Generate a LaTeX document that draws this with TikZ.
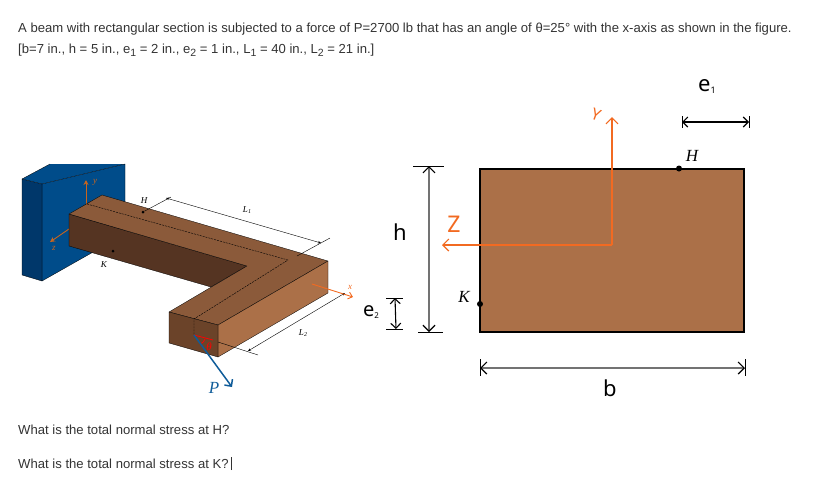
\documentclass[tikz,border=0pt]{standalone}
\usepackage{fontspec}
\setmainfont{Liberation Sans}
\newfontfamily\handfont{Noto Sans}
\newfontfamily\labelfont{Liberation Serif}
\usetikzlibrary{arrows.meta}
\definecolor{wallfront}{HTML}{004C8A}
\definecolor{wallside}{HTML}{00376A}
\definecolor{beamtop}{HTML}{8B5A3A}
\definecolor{beamside}{HTML}{553422}
\definecolor{beamlight}{HTML}{AB7048}
\definecolor{beamend}{HTML}{6B4329}
\definecolor{axisorange}{HTML}{F26A21}
\definecolor{axisbrown}{HTML}{C8651E}
\definecolor{forceblue}{HTML}{0F5C99}
\definecolor{textgray}{HTML}{333333}
\newcommand{\subnum}[1]{\raisebox{-3pt}{\fontsize{10.5}{12}\selectfont #1}}
\tikzstyle{face} = [draw=black, line width=0.3pt, line join=round]
\tikzstyle{thindim} = [black, line width=0.4pt, {Stealth[length=3pt,width=2.5pt]}-{Stealth[length=3pt,width=2.5pt]}]
\tikzstyle{thinline} = [black, line width=0.4pt]
\tikzstyle{handdim} = [line width=1.1pt, {Straight Barb[length=5pt,width=10pt]}-{Straight Barb[length=5pt,width=10pt]}]
\tikzstyle{graydim} = [draw=black!55, line width=1.2pt, {Straight Barb[length=6pt,width=12pt,black]}-{Straight Barb[length=6pt,width=12pt,black]}]
\tikzstyle{axis3d} = [axisbrown, line width=0.9pt, -{Stealth[length=5pt,width=5pt]}]
\tikzstyle{axis2d} = [axisorange, line width=1.2pt, -{Straight Barb[length=6pt,width=12pt]}]
\tikzstyle{bodytext} = [anchor=base west, inner sep=0pt, textgray, font=\fontsize{13.1}{15}\selectfont]
\tikzstyle{slabel} = [inner sep=0pt, font=\fontsize{9}{10}\labelfont\itshape]
\tikzstyle{seclabel} = [inner sep=0pt, font=\fontsize{17}{18}\labelfont\itshape]
\tikzstyle{hand} = [inner sep=0pt, font=\fontsize{22}{24}\handfont]
\tikzstyle{pointdot} = [circle, fill=black, inner sep=0pt, minimum size=#1]

\begin{document}
\begin{tikzpicture}[x=1pt, y=-1pt]
	\useasboundingbox (0,0) rectangle (823,499);
	\node[bodytext] (line1) at (18,32) {A beam with rectangular section is subjected to a force of P=2700 lb that has an angle of θ=25° with the x-axis as shown in the figure.};
	\node[bodytext] (line2) at (18,53) {[b=7 in., h = 5 in., e\subnum{1} = 2 in., e\subnum{2} = 1 in., L\subnum{1} = 40 in., L\subnum{2} = 21 in.]};
	\node[bodytext] (askh) at (18,434) {What is the total normal stress at H?};
	\node[bodytext] (askk) at (18,468) {What is the total normal stress at K?\,\rule[-2pt]{0.6pt}{13pt}};

	% wall
	\fill[wallfront] (50,164) -- (125,164) -- (42,184) -- (22,179) -- cycle;
	\draw[face, fill=wallfront] (42,184) -- (125,164) -- (125,234) -- (42,281) -- cycle;
	\draw[face, fill=wallside] (22,179) -- (42,184) -- (42,281) -- (22,275) -- cycle;
	\draw[face] (22,179) -- (50,164);

	% axes at the wall
	\coordinate (origy) at (86,204);
	\coordinate (tipy) at (86,180);
	\coordinate (origz) at (69,229);
	\coordinate (tipz) at (50,242);
	\draw[axis3d] (origy) to (tipy);
	\draw[axis3d] (origz) to (tipz);
	\node[slabel, axisbrown] (ylabel) at (95,182) {y};
	\node[slabel, axisbrown] (zlabel) at (54,248) {z};

	% beam
	\draw[face, fill=beamside] (69,214) -- (247,266) -- (211,287) -- (69,246) -- cycle;
	\draw[face, fill=beamtop] (69,214) -- (102,195) -- (328,261) -- (218,325) -- (169,312) -- (247,266) -- cycle;
	\draw[face, fill=beamlight] (218,325) -- (328,261) -- (328,293) -- (218,357) -- cycle;
	\draw[face, fill=beamend] (169,312) -- (218,325) -- (218,357) -- (169,343) -- cycle;
	\draw[thinline, dash pattern=on 2pt off 1pt] (87,204) -- (288,260) -- (194,319) -- (194,335);

	% dimensions on the beam
	\node[pointdot=3pt] (hdot3d) at (143,212) {};
	\node[pointdot=3pt] (kdot3d) at (113,251) {};
	\node[slabel] (h3d) at (144,201) {H};
	\node[slabel] (k3d) at (104,265) {K};
	\coordinate (lonestart) at (166,198);
	\coordinate (loneend) at (321,243);
	\coordinate (loneext) at (171,197);
	\coordinate (lonecut) at (297,256);
	\coordinate (lonetop) at (330,238);
	\draw[thinline] (hdot3d) to (loneext);
	\draw[thinline] (lonecut) to (lonetop);
	\draw[thindim] (lonestart) to (loneend);
	\node[slabel] (lone) at (247,210) {L\raisebox{-1.5pt}{\fontsize{6}{7}\selectfont 1}};
	\coordinate (ltwostart) at (248,351);
	\coordinate (ltwoend) at (345,293);
	\coordinate (ltwobase) at (218,342);
	\coordinate (ltwoext) at (258,355);
	\draw[thinline] (ltwobase) to (ltwoext);
	\draw[thindim] (ltwostart) to (ltwoend);
	\node[slabel] (ltwo) at (303,333) {L\raisebox{-1.5pt}{\fontsize{6}{7}\selectfont 2}};

	% x axis and load
	\coordinate (origx) at (312,284);
	\coordinate (tipx) at (353,297);
	\draw[axisorange, line width=0.9pt, -{Straight Barb[length=4pt,width=7pt]}] (origx) to (tipx);
	\node[slabel, axisorange] (xlabel) at (350,287) {x};
	\coordinate (loadbase) at (194,335);
	\coordinate (loadtip) at (232,387);
	\coordinate (thetaend) at (213,340);
	\coordinate (thetaone) at (205,339);
	\coordinate (thetatwo) at (200,344);
	\draw[red, line width=0.8pt] (loadbase) to (thetaend);
	\draw[red, line width=0.7pt] (thetaone) to[bend left=25] (thetatwo);
	\draw[forceblue, line width=1.5pt, -{Straight Barb[length=5pt,width=10pt]}] (loadbase) to (loadtip);
	\node[inner sep=0pt, red, font=\fontsize{11}{12}\labelfont\itshape] (thetalabel) at (209,347) {θ};
	\node[inner sep=0pt, forceblue, font=\fontsize{17}{18}\labelfont\itshape] (plabel) at (214,388) {P};

	% section
	\draw[line width=1.6pt, fill=beamlight] (480,169) rectangle (744,332);
	\coordinate (sectionorig) at (612,245);
	\coordinate (sectiony) at (612,117);
	\coordinate (sectionz) at (442,245);
	\draw[axis2d] (sectionorig) to (sectiony);
	\draw[axis2d] (sectionorig) to (sectionz);
	\node[hand, axisorange, font=\fontsize{16}{17}\handfont, rotate=-20] (ysec) at (596,115) {Y};
	\node[hand, axisorange, font=\fontsize{23}{24}\handfont] (zsec) at (454,224) {Z};
	\node[pointdot=6pt] (hdot) at (679,168.5) {};
	\node[pointdot=6pt] (kdot) at (480,304) {};
	\node[seclabel] (hsec) at (692,156) {H};
	\node[seclabel] (ksec) at (464,297) {K};

	% hand dimensions
	\coordinate (hcapl) at (413,166);
	\coordinate (hcapr) at (444,166);
	\coordinate (hcapbl) at (418,332);
	\coordinate (hcapbr) at (443,332);
	\coordinate (htop) at (429,166);
	\coordinate (hbot) at (429,332);
	\draw[line width=0.8pt] (hcapl) to (hcapr);
	\draw[line width=0.8pt] (hcapbl) to (hcapbr);
	\draw[graydim] (htop) to (hbot);
	\node[hand] (hhand) at (400,232) {h};
	\coordinate (etwol) at (386,298);
	\coordinate (etwor) at (403,298);
	\coordinate (etwobl) at (386,329);
	\coordinate (etwobr) at (403,329);
	\coordinate (etwotop) at (395,298);
	\coordinate (etwobot) at (396,329);
	\draw[line width=0.9pt] (etwol) to (etwor);
	\draw[line width=0.9pt] (etwobl) to (etwobr);
	\draw[handdim] (etwotop) to (etwobot);
	\node[hand, font=\fontsize{20}{22}\handfont] (etwohand) at (371,312) {e\raisebox{-2pt}{\fontsize{8}{9}\selectfont\bfseries 2}};
	\coordinate (bleft) at (480,368);
	\coordinate (bright) at (745,368);
	\coordinate (bcaplt) at (480,359);
	\coordinate (bcaplb) at (480,376);
	\coordinate (bcaprt) at (745,359);
	\coordinate (bcaprb) at (745,376);
	\draw[line width=0.8pt] (bcaplt) to (bcaplb);
	\draw[line width=0.8pt] (bcaprt) to (bcaprb);
	\draw[graydim] (bleft) to (bright);
	\node[hand] (bhand) at (610,388) {b};
	\coordinate (eoneleft) at (682,122);
	\coordinate (eoneright) at (749,122);
	\coordinate (eonelt) at (682,116);
	\coordinate (eonelb) at (682,128);
	\coordinate (eonert) at (749,116);
	\coordinate (eonerb) at (749,128);
	\draw[line width=0.9pt] (eonelt) to (eonelb);
	\draw[line width=0.9pt] (eonert) to (eonerb);
	\draw[handdim] (eoneleft) to (eoneright);
	\node[hand, font=\fontsize{22}{24}\handfont] (eonehand) at (707,86) {e\raisebox{-2pt}{\fontsize{9}{10}\selectfont 1}};
\end{tikzpicture}
\end{document}
